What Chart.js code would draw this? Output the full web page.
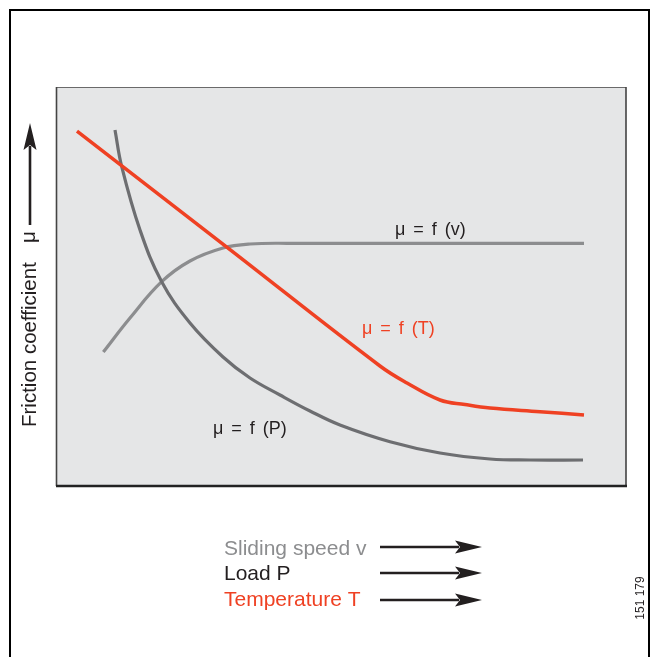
<!DOCTYPE html>
<html>
<head>
<meta charset="utf-8">
<script src="https://cdn.jsdelivr.net/npm/chart.js@4/dist/chart.umd.min.js"></script>
<style>
html, body { margin: 0; padding: 0; background: #fff; }
#c { display: block; }
</style>
</head>
<body>
<canvas id="c" width="651" height="657"></canvas>
<script>
// values (0..100 on both axes)
const tempX  = [3.68, 30.53, 56.84, 61.58, 67.37, 71.75, 76.14, 84.91, 92.63];
const tempY  = [88.97, 59.25, 30.08, 25.81, 21.55, 20.43, 19.55, 18.62, 17.79];
const loadX  = [10.35, 11.53, 14.74, 18.54, 23.51, 29.30, 34.04, 39.30, 44.56, 49.82, 58.60, 67.37, 76.14, 83.16, 92.46];
const loadY  = [89.22, 80.03, 64.16, 51.20, 40.85, 32.33, 27.07, 22.81, 18.80, 15.29, 11.10, 8.27, 6.77, 6.52, 6.52];
const speedX = [8.30, 12.98, 18.54, 23.51, 29.30, 34.04, 41.05, 60.35, 92.63];
const speedY = [33.58, 42.11, 51.20, 56.39, 59.65, 60.65, 60.83, 60.80, 60.80];

const curveLabels  = ['μ = f (T)', 'μ = f (P)', 'μ = f (v)'];
const legendLabels = ['Sliding speed v', 'Load P', 'Temperature T'];
const yTitle = 'Friction coefficient';
const figNo = '151 179';

const RED = '#ef4123';
const DARK = '#6d6e71';
const LIGHT = '#8c8d8f';
const INK = '#231f20';
const FONT = '"Liberation Sans", Arial, sans-serif';

function toPoints(xs, ys) {
    let pts = [];
    for (let i = 0; i < xs.length; i++) {
        pts.push({x: xs[i], y: ys[i]});
    }
    return pts;
}

function drawArrow(ctx, x1, y1, x2, y2) {
    const len = Math.hypot(x2 - x1, y2 - y1);
    const head = 27, half = 6.5;
    ctx.save();
    ctx.translate(x1, y1);
    ctx.rotate(Math.atan2(y2 - y1, x2 - x1));
    ctx.strokeStyle = INK;
    ctx.fillStyle = INK;
    ctx.lineWidth = 2.6;
    ctx.beginPath();
    ctx.moveTo(0, 0);
    ctx.lineTo(len - head + 4, 0);
    ctx.stroke();
    ctx.beginPath();
    ctx.moveTo(len, 0);
    ctx.lineTo(len - head, -half);
    ctx.lineTo(len - head + 5, 0);
    ctx.lineTo(len - head, half);
    ctx.closePath();
    ctx.fill();
    ctx.restore();
}

const decor = {
    id: 'decor',
    beforeDraw(chart) {
        const ctx = chart.ctx, a = chart.chartArea;
        ctx.save();
        ctx.fillStyle = '#fff';
        ctx.fillRect(0, 0, chart.width, chart.height);
        ctx.fillStyle = '#e5e6e7';
        ctx.fillRect(a.left, a.top, a.right - a.left, a.bottom - a.top);
        ctx.restore();
    },
    afterDraw(chart) {
        const ctx = chart.ctx, a = chart.chartArea;
        const xs = chart.scales.x, ys = chart.scales.y;
        ctx.save();

        // outer frame
        ctx.strokeStyle = '#000';
        ctx.lineWidth = 2;
        ctx.beginPath();
        ctx.moveTo(10, 657);
        ctx.lineTo(10, 10);
        ctx.lineTo(649, 10);
        ctx.lineTo(649, 657);
        ctx.stroke();

        // plot box edges
        ctx.lineWidth = 1;
        ctx.strokeStyle = '#6a6a6a';
        ctx.beginPath();
        ctx.moveTo(a.left, a.top + 0.5);
        ctx.lineTo(a.right, a.top + 0.5);
        ctx.stroke();
        ctx.lineWidth = 1.6;
        ctx.strokeStyle = '#444';
        ctx.beginPath();
        ctx.moveTo(a.left + 0.5, a.top);
        ctx.lineTo(a.left + 0.5, a.bottom);
        ctx.moveTo(a.right, a.top);
        ctx.lineTo(a.right, a.bottom);
        ctx.stroke();
        ctx.lineWidth = 2.5;
        ctx.strokeStyle = '#222';
        ctx.beginPath();
        ctx.moveTo(a.left, a.bottom);
        ctx.lineTo(a.right + 1, a.bottom);
        ctx.stroke();

        // curve labels
        ctx.font = '18px ' + FONT;
        ctx.textBaseline = 'alphabetic';
        ctx.textAlign = 'left';
        ctx.wordSpacing = '3px';
        ctx.fillStyle = RED;
        ctx.fillText(curveLabels[0], xs.getPixelForValue(53.68), ys.getPixelForValue(38.1));
        ctx.fillStyle = INK;
        ctx.fillText(curveLabels[1], xs.getPixelForValue(27.54), ys.getPixelForValue(13.0));
        ctx.fillText(curveLabels[2], xs.getPixelForValue(59.47), ys.getPixelForValue(62.9));
        ctx.wordSpacing = '0px';

        // y title, rotated
        ctx.save();
        ctx.translate(36, 427);
        ctx.rotate(-Math.PI / 2);
        ctx.font = '20.5px ' + FONT;
        ctx.fillStyle = INK;
        ctx.fillText(yTitle, 0, 0);
        ctx.fillText('μ', 184, -1);
        ctx.restore();
        drawArrow(ctx, 30, 225, 30, 123);

        // x legend
        const legendColors = [LIGHT, INK, RED];
        const legendBase = [555, 580, 606];
        const arrowY = [547, 573, 600];
        ctx.font = '21px ' + FONT;
        for (let i = 0; i < legendLabels.length; i++) {
            ctx.fillStyle = legendColors[i];
            ctx.fillText(legendLabels[i], 224, legendBase[i]);
            drawArrow(ctx, 380, arrowY[i], 482, arrowY[i]);
        }

        // figure number
        ctx.save();
        ctx.translate(644, 598);
        ctx.rotate(-Math.PI / 2);
        ctx.font = '12px ' + FONT;
        ctx.textAlign = 'center';
        ctx.fillStyle = INK;
        ctx.fillText(figNo, 0, 0);
        ctx.restore();

        ctx.restore();
    }
};

new Chart(document.getElementById('c'), {
    type: 'line',
    data: {
        datasets: [{
            label: 'T',
            data: toPoints(tempX, tempY),
            borderColor: RED,
            borderWidth: 3.5,
            pointRadius: 0,
            tension: 0.4
        }, {
            label: 'P',
            data: toPoints(loadX, loadY),
            borderColor: DARK,
            borderWidth: 3.2,
            pointRadius: 0,
            tension: 0.4
        }, {
            label: 'v',
            data: toPoints(speedX, speedY),
            borderColor: LIGHT,
            borderWidth: 3.2,
            pointRadius: 0,
            tension: 0.4
        }]
    },
    options: {
        responsive: false,
        animation: false,
        layout: {
            padding: {left: 56, top: 87, right: 25, bottom: 171}
        },
        scales: {
            x: {type: 'linear', min: 0, max: 100, display: false},
            y: {type: 'linear', min: 0, max: 100, display: false}
        },
        plugins: {
            legend: {display: false},
            tooltip: {enabled: false}
        }
    },
    plugins: [decor]
});
</script>
</body>
</html>
